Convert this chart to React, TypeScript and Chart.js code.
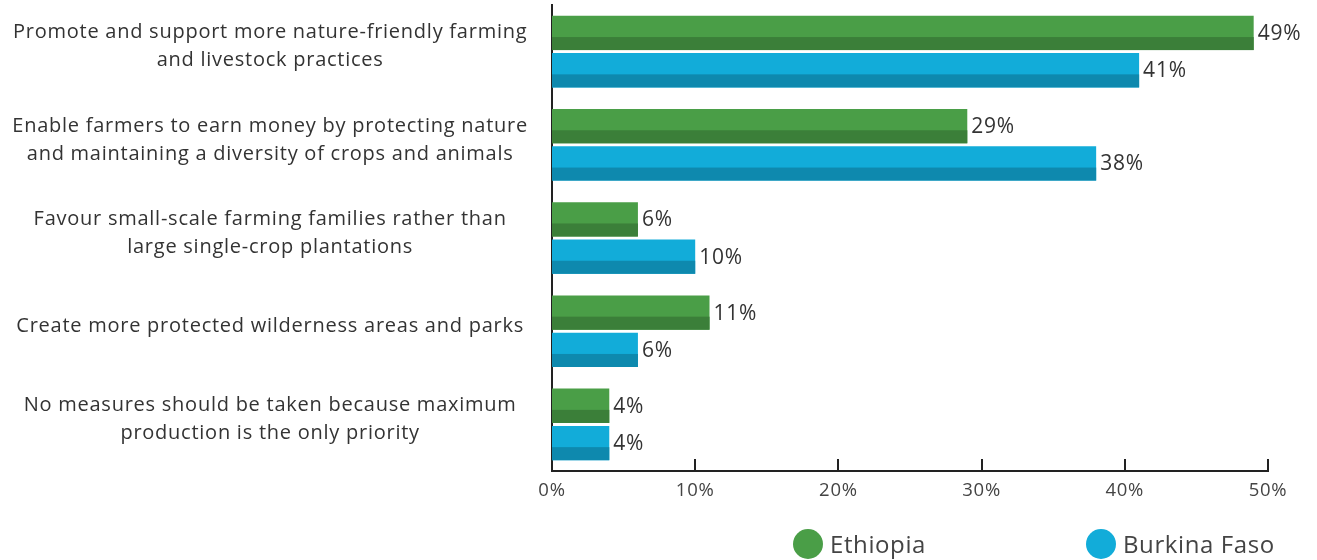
import React, { useEffect, useRef } from "react";
import { Chart, registerables } from "chart.js";

Chart.register(...registerables);

const categories: string[][] = [
  ["Promote and support more nature-friendly farming", "and livestock practices"],
  ["Enable farmers to earn money by protecting nature", "and maintaining a diversity of crops and animals"],
  ["Favour small-scale farming families rather than", "large single-crop plantations"],
  ["Create more protected wilderness areas and parks"],
  ["No measures should be taken because maximum", "production is the only priority"],
];
const ethiopia = [49, 29, 6, 11, 4];
const burkinaFaso = [41, 38, 10, 6, 4];
const seriesNames = ["Ethiopia", "Burkina Faso"];
const xMin = 0;
const xMax = 50;
const xStep = 10;

const FONT = "'Open Sans', 'Noto Sans', sans-serif";
const SPACING = "0.75px";
const lightColors = ["#4a9e47", "#12acd9"];
const darkColors = ["#3b7f39", "#0e89ae"];

const twoTonePlugin = {
  id: "twoTone",
  beforeLayout(chart: any) {
    chart.ctx.letterSpacing = SPACING;
  },
  beforeDraw(chart: any) {
    chart.ctx.letterSpacing = SPACING;
  },
  afterDatasetsDraw(chart: any) {
    const ctx = chart.ctx;
    ctx.save();
    chart.data.datasets.forEach((ds: any, i: number) => {
      const meta = chart.getDatasetMeta(i);
      meta.data.forEach((el: any, j: number) => {
        const { x, y, base, height } = el.getProps(["x", "y", "base", "height"], true);
        const bottom = y + height / 2;
        const dh = height * 0.38;
        ctx.fillStyle = darkColors[i];
        ctx.fillRect(Math.min(base, x), bottom - dh, Math.abs(x - base), dh);
        ctx.fillStyle = "#333333";
        ctx.font = `21px ${FONT}`;
        ctx.textAlign = "left";
        ctx.textBaseline = "middle";
        ctx.fillText(`${ds.data[j]}%`, x + 4, y + 1);
      });
    });
    ctx.restore();
  },
  afterDraw(chart: any) {
    const ctx = chart.ctx;
    const xs = chart.scales.x;
    const bottom = chart.chartArea.bottom;
    ctx.save();
    ctx.strokeStyle = "#222222";
    ctx.lineWidth = 2;
    xs.ticks.forEach((t: any) => {
      if (t.value === xMin) return;
      const px = Math.round(xs.getPixelForValue(t.value));
      ctx.beginPath();
      ctx.moveTo(px, bottom);
      ctx.lineTo(px, bottom - 12);
      ctx.stroke();
    });
    ctx.restore();
  },
};

export default function App() {
  const canvasRef = useRef<HTMLCanvasElement | null>(null);

  useEffect(() => {
    if (!canvasRef.current) return;
    const chart = new Chart(canvasRef.current, {
      type: "bar",
      data: {
        labels: categories,
        datasets: [
          {
            label: seriesNames[0],
            data: ethiopia,
            backgroundColor: lightColors[0],
            categoryPercentage: 0.8,
            barPercentage: 0.92,
          },
          {
            label: seriesNames[1],
            data: burkinaFaso,
            backgroundColor: lightColors[1],
            categoryPercentage: 0.8,
            barPercentage: 0.92,
          },
        ],
      },
      options: {
        indexAxis: "y",
        animation: false,
        responsive: true,
        maintainAspectRatio: false,
        layout: { padding: { top: 5, right: 49, left: 0, bottom: 0 } },
        plugins: {
          legend: { display: false },
          tooltip: { enabled: false },
        },
        scales: {
          x: {
            min: xMin,
            max: xMax,
            grid: { display: false, drawTicks: false },
            border: { display: true, color: "#222222", width: 2 },
            ticks: {
              stepSize: xStep,
              callback: (v: any) => `${v}%`,
              color: "#444444",
              font: { family: FONT, size: 18.5 },
              padding: 9,
            },
            afterFit: (scale: any) => {
              scale.height = 89;
              scale.paddingLeft = 0;
              scale.paddingRight = 0;
            },
          },
          y: {
            grid: { display: false, drawTicks: false },
            border: { display: true, color: "#222222", width: 2 },
            ticks: {
              color: "#333333",
              font: { family: FONT, size: 20, lineHeight: 1.4 },
              crossAlign: "center",
              padding: 24,
              labelOffset: -5,
            },
            afterFit: (scale: any) => {
              scale.width = 552;
              scale.paddingTop = 0;
              scale.paddingBottom = 0;
            },
          },
        },
      },
      plugins: [twoTonePlugin],
    } as any);
    return () => chart.destroy();
  }, []);

  const legendItem = (name: string, color: string, cx: number) => (
    <div
      key={name}
      style={{
        position: "absolute",
        left: cx - 15,
        top: 529,
        height: 30,
        display: "flex",
        alignItems: "center",
        whiteSpace: "nowrap",
      }}
    >
      <span
        style={{
          display: "inline-block",
          width: 30,
          height: 30,
          borderRadius: "50%",
          background: color,
          marginRight: 7,
        }}
      />
      <span
        style={{
          fontFamily: FONT,
          fontSize: 24,
          color: "#444444",
          lineHeight: "30px",
          letterSpacing: "0.6px",
        }}
      >
        {name}
      </span>
    </div>
  );

  return (
    <div style={{ position: "absolute", left: 0, top: 0, width: 1317, height: 560 }}>
      <div style={{ position: "absolute", left: 0, top: 0, width: 1317, height: 560 }}>
        <canvas ref={canvasRef} />
      </div>
      {legendItem(seriesNames[0], lightColors[0], 808)}
      {legendItem(seriesNames[1], lightColors[1], 1101)}
    </div>
  );
}
